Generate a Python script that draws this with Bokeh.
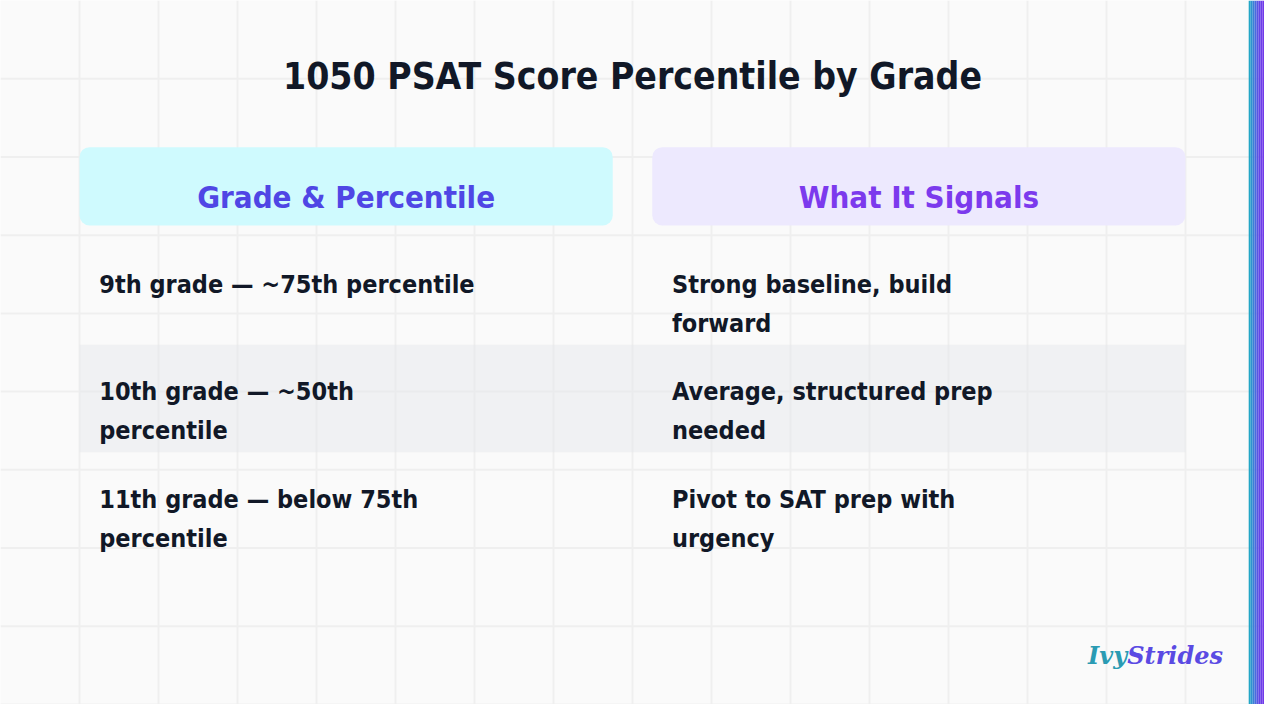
from bokeh.plotting import figure
from bokeh.models import Range1d
from bokeh.core.properties import value
from bokeh.embed import file_html
from bokeh.resources import INLINE

# chart content
title = "1050 PSAT Score Percentile by Grade"
headers = ["Grade & Percentile", "What It Signals"]
header_fills = ["#cffafe", "#ede9fe"]
header_colors = ["#4f46e5", "#7c3aed"]
grades = ["9th grade \u2014 ~75th percentile",
          "10th grade \u2014 ~50th\npercentile",
          "11th grade \u2014 below 75th\npercentile"]
signals = ["Strong baseline, build\nforward",
           "Average, structured prep\nneeded",
           "Pivot to SAT prep with\nurgency"]

FONT = "DejaVu Sans Condensed"
INK = "#111827"

# the 1280x720 slide is mapped onto the plot area
p = figure(width=1264, height=704, output_backend="svg", toolbar_location=None,
           x_range=Range1d(0, 1280), y_range=Range1d(720, 0),
           x_axis_type=None, y_axis_type=None, min_border=0,
           background_fill_color="#fafafa", border_fill_color="#fafafa",
           outline_line_color=None)
p.xgrid.visible = False
p.ygrid.visible = False

# faint background grid
gx = list(range(80, 1281, 80))
gy = list(range(80, 721, 80))
p.segment(x0=gx, x1=gx, y0=[0] * len(gx), y1=[720] * len(gx),
          line_color="#efefef", line_width=2)
p.segment(x0=[0] * len(gy), x1=[1280] * len(gy), y0=gy, y1=gy,
          line_color="#efefef", line_width=2)

# title
p.text(x=[640], y=[78], text=[title], text_align="center",
       text_baseline="alphabetic", text_font=value(FONT),
       text_font_style="bold", text_font_size="37px", text_color=INK)

# header boxes
col_left = [80, 660]
col_w = 540
p.quad(left=col_left, right=[c + col_w for c in col_left], top=[150, 150],
       bottom=[230, 230], fill_color=header_fills, line_color=None,
       border_radius=10)
p.text(x=[c + col_w / 2 for c in col_left], y=[201, 201], text=headers,
       text_align="center", text_baseline="alphabetic", text_font=value(FONT),
       text_font_style="bold", text_font_size="31px", text_color=header_colors)

# striped middle row
row_h = 110
row_top = 242
p.quad(left=[80], right=[1200], top=[row_top + row_h], bottom=[row_top + 2 * row_h],
       fill_color="#e5e7eb", fill_alpha=0.45, line_color=None)

# body text, one glyph call for both columns
xs, ys, txt = [], [], []
for i, (g, s) in enumerate(zip(grades, signals)):
    for x0, cell in ((100, g), (680, s)):
        for j, line in enumerate(cell.split("\n")):
            xs.append(x0)
            ys.append(290 + row_h * i + 40 * j)
            txt.append(line)
p.text(x=xs, y=ys, text=txt, text_align="left", text_baseline="alphabetic",
       text_font=value(FONT), text_font_style="bold", text_font_size="25px",
       text_color=INK)

# logo
p.text(x=[1141], y=[670], text=["Ivy"], text_align="right",
       text_baseline="alphabetic", text_font=value("DejaVu Serif"),
       text_font_style="bold italic", text_font_size="24px", text_color="#2a9bb3")
p.text(x=[1141], y=[670], text=["Strides"], text_align="left",
       text_baseline="alphabetic", text_font=value("DejaVu Serif"),
       text_font_style="bold italic", text_font_size="24px", text_color="#5a4ae3")

# gradient strip on the right edge
strip = ["#22a6c6", "#2f92cf", "#3c7fd7", "#4a6bde", "#5757e3", "#6445e8",
         "#6d3de9", "#713aea"]
sx = [1264 + 2 * k for k in range(len(strip))]
p.quad(left=sx, right=[x + 2 for x in sx], top=[0] * len(sx),
       bottom=[720] * len(sx), fill_color=strip, line_color=None)

open("out.html", "w").write(file_html(p, INLINE))
